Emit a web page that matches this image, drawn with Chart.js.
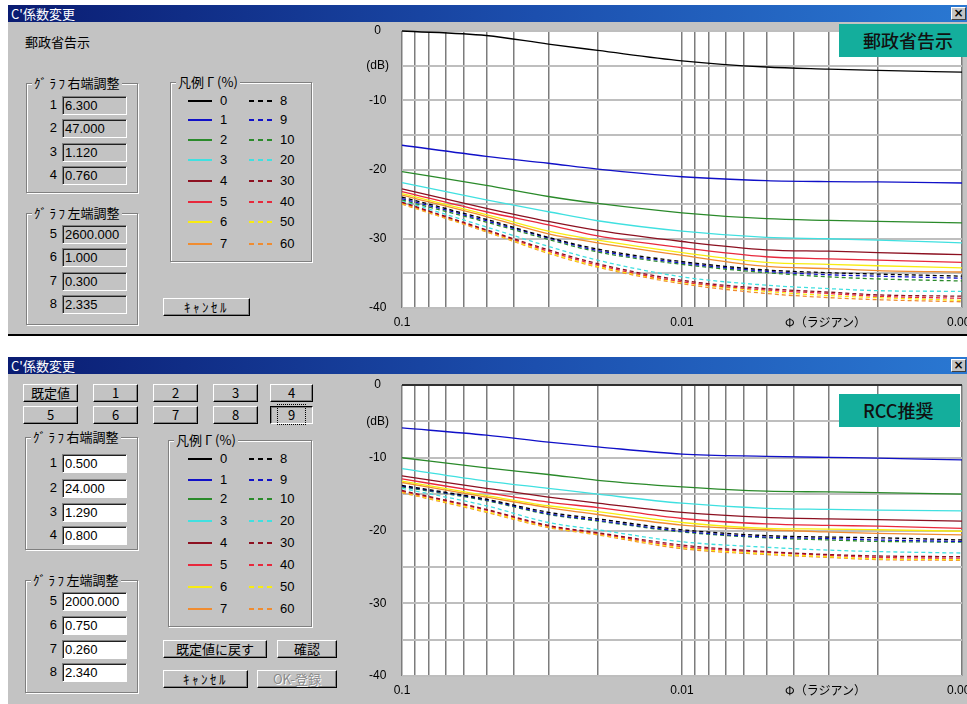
<!DOCTYPE html>
<html><head><meta charset="utf-8">
<script src="https://cdn.jsdelivr.net/npm/chart.js@4.4.1/dist/chart.umd.min.js"></script>
<style>
html,body{margin:0;padding:0;width:967px;height:704px;overflow:hidden;background:#fff;font-family:"Liberation Sans","Noto Sans CJK JP",sans-serif;font-size:12px;color:#000;}
.dlg{position:absolute;left:8px;width:1000px;background:#c3c3c3;}
.titlebar{position:absolute;left:0;top:0;width:959px;height:17px;background:linear-gradient(to right,#0a1c72 0%,#1c4fae 55%,#2a78d2 100%);color:#fff;font-family:"Noto Sans CJK JP";font-size:13px;line-height:17px;padding-left:3px;box-sizing:border-box;}
.closebtn{position:absolute;left:943px;top:2px;width:15px;height:13px;background:#c3c3c3;border:1px solid;border-color:#fff #404040 #404040 #fff;color:#000;font-weight:bold;font-size:12px;line-height:11px;text-align:center;box-sizing:border-box;font-family:"DejaVu Sans";}
.abs{position:absolute;white-space:nowrap;}
.grp{position:absolute;border:1px solid #808080;box-shadow:1px 1px 0 #fff, inset 1px 1px 0 #fff;box-sizing:border-box;}
.cap{position:absolute;top:-10px;left:5px;background:#c3c3c3;padding:0 2px;font-family:"Noto Sans CJK JP";font-size:13px;line-height:17px;white-space:nowrap;}
.hw{letter-spacing:2.5px;}
.edit{position:absolute;height:19px;width:65px;box-sizing:border-box;border:1px solid;border-color:#808080 #fff #fff #808080;box-shadow:inset 1px 1px 0 #202020;padding-left:2px;font-size:13px;line-height:17px;}
.edit.dis{background:#c3c3c3;}
.edit.en{background:#fff;}
.num{position:absolute;width:11px;text-align:right;font-size:13px;}
.btn{position:absolute;box-sizing:border-box;height:18px;background:#c3c3c3;border:1px solid;border-color:#fff #000 #000 #fff;box-shadow:inset -1px -1px 0 #808080;text-align:center;font-size:13px;line-height:15px;font-family:"Noto Sans CJK JP","Liberation Sans";}
.btn.pressed{border-color:#000 #fff #fff #000;box-shadow:inset 1px 1px 0 #808080;}
.btn.pressed span{border:1px dotted #000;padding:0 10px;}
.btn.disabled{color:#8a8a8a;text-shadow:1px 1px 0 #fff;}
.teal{position:absolute;background:#14ae9c;color:#111;font-family:"Noto Sans CJK JP";font-size:18px;font-weight:500;box-sizing:border-box;padding-left:24px;z-index:5;}
.xtitle{position:absolute;font-family:"Noto Sans CJK JP";font-size:12px;z-index:4;}
canvas{position:absolute;}
.lsolid{position:absolute;width:24px;height:2px;}
.ldash{position:absolute;width:25px;height:2px;}
.lnum{position:absolute;font-size:13px;line-height:14px;}
</style></head>
<body>

<!-- top dialog -->
<div class="dlg" style="top:5px;height:329px;border-bottom:2px solid #000;">
  <div class="titlebar">C'係数変更</div>
  <div class="closebtn">×</div>
</div>
<div class="abs" style="left:25px;top:32px;font-family:'Noto Sans CJK JP';font-size:13px;">郵政省告示</div>

<div class="grp" style="left:26px;top:83px;width:112px;height:110px;"><div class="cap"><span class="hw">ｸﾞﾗﾌ</span>右端調整</div></div>
<div class="grp" style="left:26px;top:213px;width:112px;height:112px;"><div class="cap"><span class="hw">ｸﾞﾗﾌ</span>左端調整</div></div>
<div class="grp" style="left:170px;top:82px;width:142px;height:180px;"><div class="cap">凡例 Γ (%)</div></div>
<div id="topEdits"></div>
<div id="topLegend"></div>
<div class="btn" style="left:163px;top:298px;width:87px;"><span class="hw">ｷｬﾝｾﾙ</span></div>

<!-- bottom dialog -->
<div class="dlg" style="top:357px;height:360px;">
  <div class="titlebar">C'係数変更</div>
  <div class="closebtn">×</div>
</div>
<div class="btn" style="left:23px;top:384px;width:55px;">既定値</div>
<div class="btn" style="left:93px;top:384px;width:45px;">1</div>
<div class="btn" style="left:153px;top:384px;width:45px;">2</div>
<div class="btn" style="left:213px;top:384px;width:45px;">3</div>
<div class="btn" style="left:270px;top:384px;width:43px;">4</div>
<div class="btn" style="left:23px;top:406px;width:55px;">5</div>
<div class="btn" style="left:93px;top:406px;width:45px;">6</div>
<div class="btn" style="left:153px;top:406px;width:45px;">7</div>
<div class="btn" style="left:213px;top:406px;width:45px;">8</div>
<div class="btn pressed" style="left:270px;top:406px;width:43px;"><span>9</span></div>

<div class="grp" style="left:25px;top:437px;width:113px;height:113px;"><div class="cap"><span class="hw">ｸﾞﾗﾌ</span>右端調整</div></div>
<div class="grp" style="left:25px;top:580px;width:113px;height:113px;"><div class="cap"><span class="hw">ｸﾞﾗﾌ</span>左端調整</div></div>
<div class="grp" style="left:168px;top:440px;width:144px;height:187px;"><div class="cap">凡例 Γ (%)</div></div>
<div id="botEdits"></div>
<div id="botLegend"></div>
<div class="btn" style="left:163px;top:640px;width:104px;">既定値に戻す</div>
<div class="btn" style="left:277px;top:640px;width:60px;">確認</div>
<div class="btn" style="left:163px;top:670px;width:85px;"><span class="hw">ｷｬﾝｾﾙ</span></div>
<div class="btn disabled" style="left:257px;top:670px;width:80px;">OK-登録</div>

<canvas id="chartTop" width="630" height="312" style="left:355px;top:22px;"></canvas>
<canvas id="chartBot" width="630" height="329" style="left:355px;top:375px;"></canvas>

<div class="teal" style="left:839px;top:24px;width:130px;height:33px;line-height:33px;">郵政省告示</div>
<div class="teal" style="left:839px;top:394px;width:121px;height:33px;line-height:33px;">RCC推奨</div>
<div class="xtitle" style="left:785px;top:313px;">Φ（ラジアン）</div>
<div class="xtitle" style="left:785px;top:681px;">Φ（ラジアン）</div>

<script>
// ---------- data ----------
const xValues = [0.1, 0.05, 0.03, 0.02, 0.01, 0.005, 0.003, 0.002, 0.001];
const gammaLabels = ['0','1','2','3','4','5','6','7','8','9','10','20','30','40','50','60'];
const xGridValues = [0.001,0.002,0.003,0.004,0.005,0.006,0.007,0.008,0.009,0.01,0.02,0.03,0.04,0.05,0.06,0.07,0.08,0.09,0.1];
const xTickLabels = {'0.1':'0.1','0.01':'0.01','0.001':'0.001'};
const yTickValues = [0,-5,-10,-15,-20,-25,-30,-35,-40];
const yTickLabels = ['0','(dB)','-10','','-20','','-30','','-40'];

// 郵政省告示 (top)
const yuseiG0  = [0, -0.65, -1.9, -2.8, -4.3, -5.2, -5.5, -5.7, -5.95];
const yuseiG1  = [-16.5, -18.1, -19.1, -19.95, -21.05, -21.6, -21.75, -21.8, -21.95];
const yuseiG2  = [-20.3, -22.3, -23.9, -24.9, -26.25, -27.1, -27.35, -27.5, -27.7];
const yuseiG3  = [-21.9, -24.4, -26.1, -27.4, -28.9, -29.8, -30.0, -30.2, -30.6];
const yuseiG4  = [-22.8, -25.6, -27.5, -28.8, -30.4, -31.6, -31.8, -32.0, -32.3];
const yuseiG5  = [-23.2, -26.1, -28.0, -29.6, -31.3, -32.6, -32.9, -33.1, -33.4];
const yuseiG6  = [-23.5, -26.5, -28.9, -30.2, -32.0, -33.4, -33.7, -33.9, -34.2];
const yuseiG7  = [-23.7, -26.8, -29.3, -30.6, -32.4, -34.0, -34.3, -34.6, -34.8];
const yuseiG8  = [-24.0, -27.2, -29.8, -31.5, -33.3, -34.5, -34.9, -35.1, -35.4];
const yuseiG9  = [-24.2, -27.4, -29.9, -31.7, -33.5, -34.7, -35.2, -35.4, -35.7];
const yuseiG10 = [-24.4, -27.6, -30.1, -31.9, -33.7, -34.9, -35.5, -35.8, -36.1];
const yuseiG20 = [-24.5, -28.3, -31.1, -33.1, -35.5, -36.7, -37.2, -37.5, -37.6];
const yuseiG30 = [-24.7, -28.7, -31.6, -33.6, -36.0, -37.2, -37.7, -38.1, -38.3];
const yuseiG40 = [-24.8, -28.8, -31.8, -33.8, -36.2, -37.4, -37.9, -38.3, -38.6];
const yuseiG50 = [-24.9, -28.9, -32.0, -34.0, -36.3, -37.6, -38.2, -38.5, -38.9];
const yuseiG60 = [-25.0, -29.0, -32.1, -34.1, -36.5, -37.9, -38.5, -38.8, -39.1];

// RCC推奨 (bottom)
const rccG0  = [0, 0, 0, 0, 0, 0, 0, 0, 0];
const rccG1  = [-5.9, -6.9, -7.85, -8.5, -9.5, -9.8, -9.95, -10.05, -10.3];
const rccG2  = [-10.0, -11.4, -12.3, -13.1, -14.0, -14.6, -14.7, -14.8, -15.0];
const rccG3  = [-11.5, -13.2, -14.2, -15.0, -16.25, -16.95, -17.1, -17.2, -17.3];
const rccG4  = [-12.5, -14.2, -15.4, -16.25, -17.5, -18.2, -18.4, -18.5, -18.7];
const rccG5  = [-12.9, -14.8, -16.1, -16.85, -18.35, -19.1, -19.3, -19.4, -19.7];
const rccG6  = [-13.2, -15.2, -16.6, -17.4, -18.9, -19.7, -19.8, -19.9, -20.1];
const rccG7  = [-13.4, -15.4, -16.85, -17.8, -19.25, -19.9, -20.2, -20.4, -20.6];
const rccG8  = [-13.8, -15.7, -17.5, -18.4, -19.9, -20.7, -20.9, -21.0, -21.3];
const rccG9  = [-13.9, -15.8, -17.7, -18.6, -20.1, -20.9, -21.1, -21.3, -21.5];
const rccG10 = [-14.0, -15.9, -17.8, -18.7, -20.2, -21.0, -21.3, -21.5, -21.6];
const rccG20 = [-14.2, -16.6, -18.9, -19.9, -21.55, -22.3, -22.7, -22.9, -23.1];
const rccG30 = [-14.5, -17.1, -19.3, -20.3, -22.0, -22.9, -23.3, -23.5, -23.6];
const rccG40 = [-14.6, -17.2, -19.4, -20.4, -22.2, -23.0, -23.4, -23.7, -23.8];
const rccG50 = [-14.7, -17.4, -19.5, -20.5, -22.35, -23.2, -23.6, -23.9, -24.0];
const rccG60 = [-14.8, -17.5, -19.6, -20.6, -22.5, -23.3, -23.7, -24.0, -24.1];

// edit box values
const yuseiRight = ['6.300','47.000','1.120','0.760'];
const yuseiLeft  = ['2600.000','1.000','0.300','2.335'];
const rccRight   = ['0.500','24.000','1.290','0.800'];
const rccLeft    = ['2000.000','0.750','0.260','2.340'];

// ---------- styles ----------
const baseColors = ['#000000','#1010c8','#2a8a2a','#40e0e0','#8c1020','#e8283c','#f8ec10','#f08c30'];

const yuseiSeries = [yuseiG0,yuseiG1,yuseiG2,yuseiG3,yuseiG4,yuseiG5,yuseiG6,yuseiG7,yuseiG8,yuseiG9,yuseiG10,yuseiG20,yuseiG30,yuseiG40,yuseiG50,yuseiG60];
const rccSeries = [rccG0,rccG1,rccG2,rccG3,rccG4,rccG5,rccG6,rccG7,rccG8,rccG9,rccG10,rccG20,rccG30,rccG40,rccG50,rccG60];

function buildEdits(container, right, left, rowsR, rowsL, enabled){
  const el = document.getElementById(container);
  let h = '';
  const add = (n, v, y) => {
    h += `<div class="num" style="left:46px;top:${y-8}px;">${n}</div>`;
    h += `<div class="edit ${enabled?'en':'dis'}" style="left:62px;top:${y-9}px;">${v}</div>`;
  };
  right.forEach((v,i)=>add(i+1, v, rowsR[i]));
  left.forEach((v,i)=>add(i+5, v, rowsL[i]));
  el.innerHTML = h;
}
buildEdits('topEdits', yuseiRight, yuseiLeft, [105,128,152,175], [234,257,281,304], false);
buildEdits('botEdits', rccRight, rccLeft, [463,488,512,535], [601,625,649,672], true);

function buildLegend(container, rows){
  const el = document.getElementById(container);
  let h = '';
  for (let i=0;i<8;i++){
    const y = rows[i];
    const c = baseColors[i];
    h += `<div class="lsolid" style="left:188px;top:${y-1}px;background:${c};"></div>`;
    h += `<div class="lnum" style="left:220px;top:${y-7}px;">${gammaLabels[i]}</div>`;
    h += `<div class="ldash" style="left:249px;top:${y-1}px;background:repeating-linear-gradient(to right, ${c} 0 5px, transparent 5px 9px);"></div>`;
    h += `<div class="lnum" style="left:280px;top:${y-7}px;">${gammaLabels[i+8]}</div>`;
  }
  el.innerHTML = h;
}
buildLegend('topLegend', [101,120,140,160,181,202,222,244]);
buildLegend('botLegend', [459,480,499,521,543,565,587,609]);

// ---------- charts ----------
const whiteArea = {
  id:'whiteArea',
  beforeDraw(chart){
    const {ctx, chartArea:a} = chart;
    ctx.save(); ctx.fillStyle='#ffffff';
    ctx.fillRect(a.left, a.top, a.right-a.left, a.bottom-a.top);
    ctx.restore();
  }
};

function makeDatasets(series){
  return series.map((vals, i) => ({
    label: gammaLabels[i],
    data: xValues.map((x, k) => ({x, y: vals[k]})),
    borderColor: baseColors[i % 8],
    borderWidth: 1.3,
    borderDash: i >= 8 ? [4,3] : [],
    pointRadius: 0,
    cubicInterpolationMode: 'monotone',
    fill: false,
    clip: 2
  }));
}

function makeChart(id, series, padTop, xAxisH){
  return new Chart(document.getElementById(id), {
    type: 'line',
    data: { datasets: makeDatasets(series) },
    options: {
      responsive: false,
      animation: false,
      layout: { padding: { top: padTop, right: 23, left: 0, bottom: 0 } },
      plugins: { legend: { display: false }, tooltip: { enabled: false } },
      scales: {
        x: {
          type: 'logarithmic',
          reverse: true,
          min: 0.001, max: 0.1,
          afterBuildTicks: (s) => { s.ticks = xGridValues.map(v => ({ value: v })); },
          afterFit: (s) => { s.height = xAxisH; s.paddingLeft = 0; s.paddingRight = 0; },
          border: { display: false },
          grid: { color: '#7c7c7c', lineWidth: 1.5, drawTicks: false },
          ticks: {
            autoSkip: false, maxRotation: 0, padding: 7,
            color: '#000', font: { family: 'Liberation Sans', size: 12 },
            callback: (v) => xTickLabels[String(v)] || ''
          }
        },
        y: {
          min: -40, max: 0,
          afterBuildTicks: (s) => { s.ticks = yTickValues.map(v => ({ value: v })); },
          afterFit: (s) => { s.width = 47; s.paddingTop = 0; s.paddingBottom = 0; },
          border: { display: false },
          grid: { color: '#bebebe', lineWidth: 2, drawTicks: false },
          ticks: {
            crossAlign: 'center', padding: 13,
            color: '#000', font: { family: 'Liberation Sans', size: 12 },
            callback: (v) => yTickLabels[yTickValues.indexOf(v)] ?? ''
          }
        }
      }
    },
    plugins: [whiteArea]
  });
}

makeChart('chartTop', yuseiSeries, 9, 26);
makeChart('chartBot', rccSeries, 10, 28);
</script>
</body></html>
